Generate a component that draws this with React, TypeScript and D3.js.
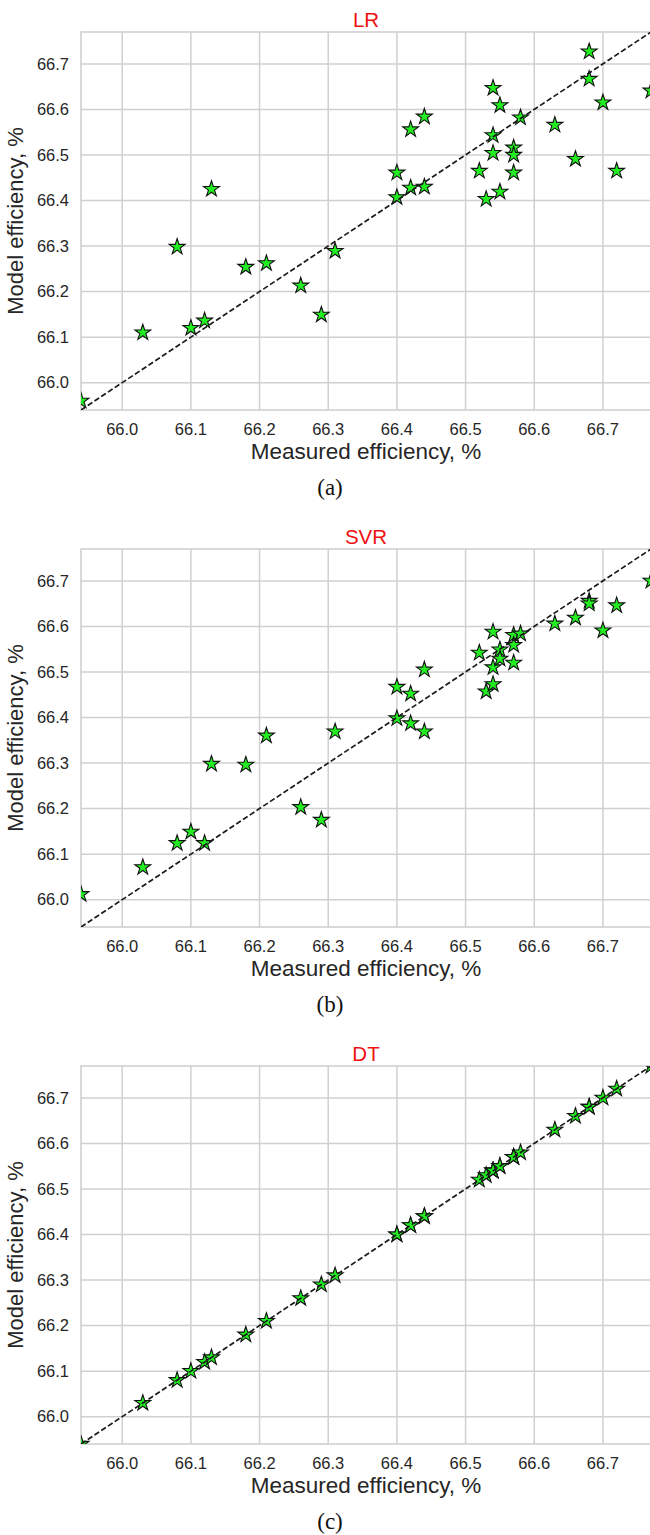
import * as d3 from "d3";

// measured efficiency (same for every model), %
const measured = [
  65.94, 66.03, 66.08, 66.1, 66.12, 66.13, 66.18, 66.21, 66.26, 66.29, 66.31,
  66.4, 66.4, 66.42, 66.42, 66.44, 66.44, 66.52, 66.53, 66.54, 66.54, 66.54,
  66.55, 66.55, 66.57, 66.57, 66.57, 66.58, 66.63, 66.66, 66.68, 66.68, 66.7,
  66.72, 66.77,
];

const lrPred = [
  65.96, 66.11, 66.298, 66.12, 66.136, 66.425, 66.254, 66.262, 66.213, 66.149,
  66.289, 66.461, 66.407, 66.556, 66.428, 66.584, 66.43, 66.465, 66.403, 66.647,
  66.543, 66.504, 66.609, 66.419, 66.516, 66.5, 66.461, 66.582, 66.566, 66.491,
  66.727, 66.667, 66.615, 66.465, 66.641,
];

const svrPred = [
  66.012, 66.071, 66.124, 66.149, 66.124, 66.298, 66.296, 66.36, 66.203, 66.175,
  66.369, 66.467, 66.398, 66.452, 66.387, 66.505, 66.369, 66.542, 66.457, 66.588,
  66.51, 66.473, 66.549, 66.529, 66.581, 66.559, 66.52, 66.584, 66.606, 66.619,
  66.656, 66.65, 66.591, 66.646, 66.7,
];

const dtPred = [
  65.94, 66.03, 66.08, 66.1, 66.12, 66.13, 66.18, 66.21, 66.26, 66.29, 66.31,
  66.4, 66.4, 66.42, 66.42, 66.44, 66.44, 66.52, 66.53, 66.54, 66.54, 66.54,
  66.55, 66.55, 66.57, 66.57, 66.57, 66.58, 66.63, 66.66, 66.68, 66.68, 66.7,
  66.72, 66.77,
];

const panelTitles = ["LR", "SVR", "DT"];
const captions = ["(a)", "(b)", "(c)"];
const tickValues = [66.0, 66.1, 66.2, 66.3, 66.4, 66.5, 66.6, 66.7];

const W = 650;
const H = 1535;
const panelStep = 517;
const m = { left: 81, right: 651, top: 32, bottom: 410 };
const font = "'Liberation Sans', Arial, sans-serif";
const textColor = "#262626";
const gridColor = "#d0d0d0";

const starPath = d3.symbol().type(d3.symbolStar).size(78)();
const fmt = d3.format(".1f");

function Panel({ idx, pred }: { idx: number; pred: number[] }) {
  const extent = d3.extent(measured) as [number, number];
  const x = d3.scaleLinear().domain(extent).range([m.left, m.right]);
  const y = d3.scaleLinear().domain(extent).range([m.bottom, m.top]);
  const clipId = `clip-${idx}`;
  const cx = (m.left + m.right) / 2;
  const cy = (m.top + m.bottom) / 2;
  const diag = d3.line<number>()
    .x((d) => x(d))
    .y((d) => y(d))(extent);

  return (
    <g transform={`translate(0, ${idx * panelStep})`}>
      <defs>
        <clipPath id={clipId}>
          <rect x={m.left} y={m.top} width={m.right - m.left} height={m.bottom - m.top} />
        </clipPath>
      </defs>
      {/* grid */}
      {tickValues.map((t) => (
        <line key={"gx" + t} x1={x(t)} x2={x(t)} y1={m.top} y2={m.bottom}
          stroke={gridColor} strokeWidth={1.5} />
      ))}
      {tickValues.map((t) => (
        <line key={"gy" + t} x1={m.left} x2={m.right} y1={y(t)} y2={y(t)}
          stroke={gridColor} strokeWidth={1.5} />
      ))}
      <rect x={m.left} y={m.top} width={m.right - m.left} height={m.bottom - m.top}
        fill="none" stroke={gridColor} strokeWidth={1.6} />

      {/* points, then the 1:1 line on top */}
      <g clipPath={`url(#${clipId})`}>
        {measured.map((d, i) => (
          <path key={i} d={starPath!} transform={`translate(${x(d)}, ${y(pred[i])})`}
            fill="#22ee22" stroke="#111" strokeWidth={1.1} />
        ))}
        <path d={diag!} fill="none" stroke="#1a1a1a" strokeWidth={1.7}
          strokeDasharray="5.5,2.6" />
      </g>

      {/* tick labels */}
      {tickValues.map((t) => (
        <text key={"tx" + t} x={x(t)} y={435} textAnchor="middle"
          fontFamily={font} fontSize={16.5} fill={textColor}>{fmt(t)}</text>
      ))}
      {tickValues.map((t) => (
        <text key={"ty" + t} x={69} y={y(t) + 5.8} textAnchor="end"
          fontFamily={font} fontSize={16.5} fill={textColor}>{fmt(t)}</text>
      ))}

      {/* labels */}
      <text x={cx} y={27} textAnchor="middle" fontFamily={font} fontSize={20.5} fill="#ee1111">
        {panelTitles[idx]}
      </text>
      <text x={cx} y={459} textAnchor="middle" fontFamily={font} fontSize={22.5} fill={textColor}>
        Measured efficiency, %
      </text>
      <text transform={`translate(23, ${cy}) rotate(-90)`} textAnchor="middle"
        fontFamily={font} fontSize={22} fill={textColor}>
        Model efficiency, %
      </text>
      <text x={330} y={495} textAnchor="middle" fontFamily="'Liberation Serif', 'Times New Roman', serif"
        fontSize={23} fill="#111">
        {captions[idx]}
      </text>
    </g>
  );
}

export default function App() {
  const series = [lrPred, svrPred, dtPred];
  return (
    <svg width={W} height={H} style={{ position: "absolute", left: 0, top: 0, background: "#fff" }}>
      <rect width={W} height={H} fill="#fff" />
      {series.map((p, i) => (
        <Panel key={i} idx={i} pred={p} />
      ))}
    </svg>
  );
}
